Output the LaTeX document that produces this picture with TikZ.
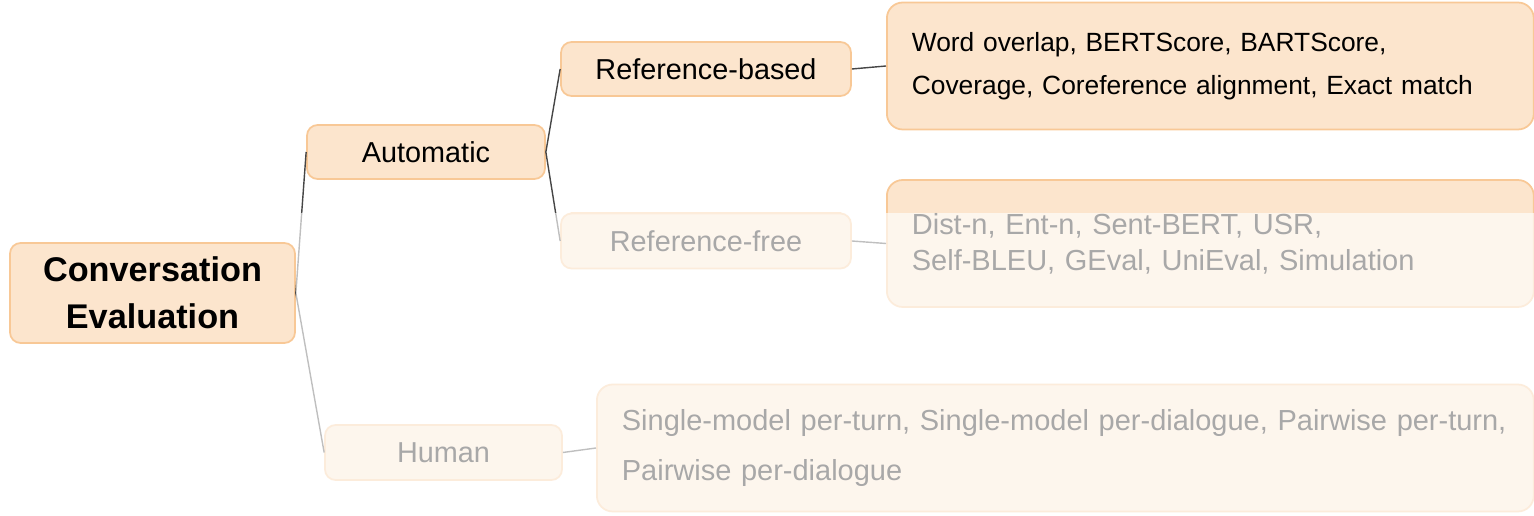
\documentclass[tikz, border = 0pt]{standalone}
\usepackage{fontspec}
\setmainfont{Liberation Sans}
\usetikzlibrary{positioning}

\definecolor{boxfill}{RGB}{252, 229, 205}
\definecolor{boxline}{RGB}{248, 200, 150}
\definecolor{linkgray}{RGB}{70, 70, 70}

\tikzset{
	topic/.style = {draw = boxline, fill = boxfill, line width = 1pt, rounded corners = 6pt, align = center, inner sep = 0pt},
	leaf/.style = {draw = boxline, fill = boxfill, line width = 1pt, rounded corners = 9pt, align = left, inner xsep = 0.5cm, inner ysep = 0pt, anchor = west},
	link/.style = {draw = linkgray, line width = 0.8pt}
}

\begin{document}
\begin{tikzpicture}[x = 0.02cm, y = -0.02cm]

	\useasboundingbox (0, 0) rectangle (1534, 516);

	% Root
	
	\node [topic, minimum width = 5.70cm, minimum height = 2.00cm, font = \fontsize{19.5}{26.6}\selectfont\bfseries] (conv) at (152.5, 293) {Conversation\\Evaluation};

	% Branches
	
	\node [topic, minimum width = 4.76cm, minimum height = 1.08cm, font = \fontsize{16.4}{19}\selectfont] (auto) at (426, 152) {Automatic};
	\node [topic, minimum width = 5.80cm, minimum height = 1.08cm, font = \fontsize{16.4}{19}\selectfont] (refbased) at (706, 69) {Reference-based};
	\node [topic, minimum width = 5.80cm, minimum height = 1.10cm, font = \fontsize{16.4}{19}\selectfont] (reffree) at (706, 241) {Reference-free};
	\node [topic, minimum width = 4.74cm, minimum height = 1.10cm, font = \fontsize{16.4}{19}\selectfont] (human) at (443.5, 452.5) {Human};

	% Metric lists
	
	\node [leaf, text width = 11.94cm, minimum height = 2.54cm, font = \fontsize{15}{24.4}\selectfont] (refbasedlist) at (886, 66) {Word overlap, BERTScore, BARTScore,\\Coverage, Coreference alignment, Exact match};
	\node [leaf, text width = 11.94cm, minimum height = 2.54cm, font = \fontsize{16.5}{20.4}\selectfont] (reffreelist) at (886, 243.5) {Dist-n, Ent-n, Sent-BERT, USR,\\Self-BLEU, GEval, UniEval, Simulation};
	\node [leaf, text width = 17.74cm, minimum height = 2.54cm, font = \fontsize{16.5}{28.9}\selectfont] (humanlist) at (596, 448) {Single-model per-turn, Single-model per-dialogue, Pairwise per-turn,\\Pairwise per-dialogue};

	% Links
	
	\draw [link] (conv.east) -- (auto.west);
	\draw [link] (conv.east) -- (human.west);
	\draw [link] (auto.east) -- (refbased.west);
	\draw [link] (auto.east) -- (reffree.west);
	\draw [link] (refbased.east) -- (refbasedlist.west);
	\draw [link] (reffree.east) -- (reffreelist.west);
	\draw [link] (human.east) -- (humanlist.west);

	% Fade
	
	\fill [white, opacity = 0.66] (296, 213) rectangle (1534, 516);

\end{tikzpicture}
\end{document}
